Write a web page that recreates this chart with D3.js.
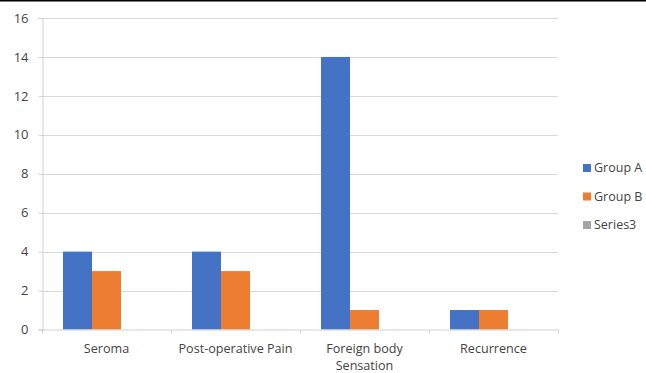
<!DOCTYPE html>
<html><head><meta charset="utf-8">
<script src="https://cdn.jsdelivr.net/npm/d3@7"></script>
<style>body{margin:0;background:#fff}svg{display:block}</style>
</head><body>
<script>
const categories = ["Seroma", "Post-operative Pain", "Foreign body Sensation", "Recurrence"];
const seriesNames = ["Group A", "Group B", "Series3"];
const groupA = [4, 4, 14, 1];
const groupB = [3, 3, 1, 1];
const series3 = [0, 0, 0, 0];
const yTicks = [0, 2, 4, 6, 8, 10, 12, 14, 16];
const colors = ["#4472C4", "#ED7D31", "#A5A5A5"];

(function() {
const W = 646, H = 373;
const svg = d3.select("body").append("svg").attr("width", W).attr("height", H);
const font = "'Open Sans', sans-serif";
const textColor = "#444444";

// top border line
svg.append("line").attr("x1", 0).attr("x2", W).attr("y1", 0.75).attr("y2", 0.75)
  .attr("stroke", "#000").attr("stroke-width", 1.5);

const mLeft = 42, mRight = 558, mTop = 18, mBottom = 329.5;
const y = d3.scaleLinear().domain([0, 16]).range([mBottom, mTop]);
const x0 = d3.scaleBand().domain(categories).range([mLeft, mRight]).padding(0);
const x1 = d3.scaleBand().domain(seriesNames).range([0, x0.bandwidth()]).paddingInner(0).paddingOuter(0.724);

// gridlines
svg.append("g").selectAll("line").data(yTicks.filter(d => d > 0)).join("line")
  .attr("x1", mLeft).attr("x2", mRight)
  .attr("y1", d => Math.round(y(d)) + 0.5).attr("y2", d => Math.round(y(d)) + 0.5)
  .attr("stroke", "#D9D9D9").attr("stroke-width", 1);

// y axis
const yAxis = svg.append("g").attr("transform", `translate(${mLeft + 0.5},0)`)
  .call(d3.axisLeft(y).tickValues(yTicks).tickSize(4).tickPadding(10));
yAxis.select(".domain").attr("stroke", "#D0D0D0");
yAxis.selectAll(".tick line").attr("stroke", "#D0D0D0");
yAxis.selectAll(".tick text").attr("fill", textColor).style("font-family", font).style("font-size", "13px");

// bars
const data = categories.map((c, i) => ({cat: c, vals: [groupA[i], groupB[i], series3[i]]}));
const g = svg.append("g").selectAll("g").data(data).join("g")
  .attr("transform", d => `translate(${x0(d.cat)},0)`);
g.selectAll("rect").data(d => d.vals.map((v, j) => ({s: seriesNames[j], v, j}))).join("rect")
  .attr("x", d => x1(d.s)).attr("width", x1.bandwidth())
  .attr("y", d => y(d.v)).attr("height", d => y(0) - y(d.v))
  .attr("fill", d => colors[d.j]);

// x axis
const xAxis = svg.append("g").attr("transform", `translate(0,${mBottom})`)
  .call(d3.axisBottom(x0).tickSize(0).tickFormat(""));
xAxis.select(".domain").attr("stroke", "#D0D0D0");
const bounds = [mLeft, ...categories.map(c => x0(c) + x0.bandwidth())];
svg.append("g").selectAll("line").data(bounds).join("line")
  .attr("x1", d => Math.round(d) + 0.5).attr("x2", d => Math.round(d) + 0.5)
  .attr("y1", mBottom).attr("y2", mBottom + 4).attr("stroke", "#D0D0D0");

// category labels (wrapped)
const labelLines = {"Foreign body Sensation": ["Foreign body", "Sensation"]};
const lab = svg.append("g").selectAll("text").data(categories).join("text")
  .attr("x", d => x0(d) + x0.bandwidth() / 2).attr("y", 353)
  .attr("text-anchor", "middle").attr("fill", textColor)
  .style("font-family", font).style("font-size", "12.6px");
lab.each(function(d) {
  const lines = labelLines[d] || [d];
  d3.select(this).selectAll("tspan").data(lines).join("tspan")
    .attr("x", x0(d) + x0.bandwidth() / 2).attr("dy", (l, i) => i === 0 ? 0 : 17).text(l => l);
});

// legend
const lg = svg.append("g").selectAll("g").data(seriesNames).join("g")
  .attr("transform", (d, i) => `translate(583,${168 + i * 28.5})`);
lg.append("rect").attr("x", 0).attr("y", -4).attr("width", 8).attr("height", 8)
  .attr("fill", (d, i) => colors[i]);
lg.append("text").attr("x", 11).attr("y", 0).attr("dy", "0.35em").attr("fill", textColor)
  .style("font-family", font).style("font-size", "12.5px").text(d => d);
})();
</script>
</body></html>
